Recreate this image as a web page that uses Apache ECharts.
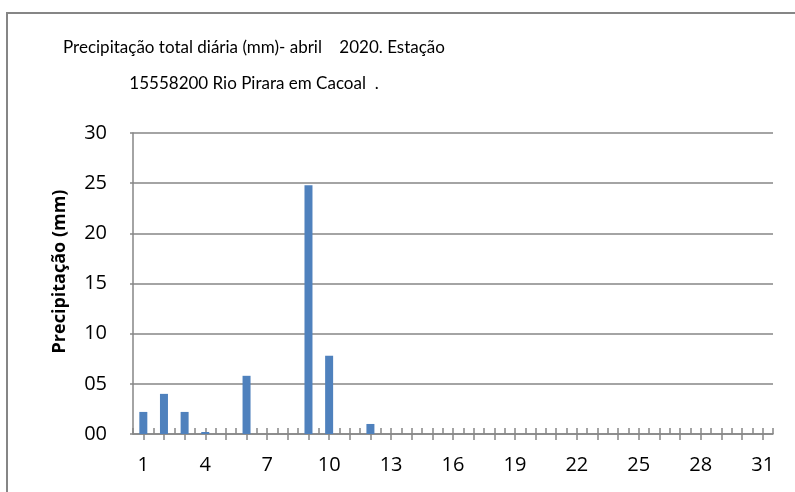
<!DOCTYPE html>
<html>
<head>
<meta charset="utf-8">
<script src="https://cdn.jsdelivr.net/npm/echarts@6/dist/echarts.min.js"></script>
<style>
  html, body { margin: 0; padding: 0; background: #fff; }
  #chart { width: 795px; height: 492px; }
</style>
</head>
<body>
<div id="chart"></div>
<script>
// dias de abril 2020
var days = []
for (var d = 1; d <= 31; d++) days.push(String(d))

// precipitação diária (mm)
var rain = [2.2, 4.0, 2.2, 0.2, 0, 5.8, 0, 0, 24.8, 7.8,
            0, 1.0, 0, 0, 0, 0, 0, 0, 0, 0,
            0, 0, 0, 0, 0, 0, 0, 0, 0, 0, 0]

var titleText = 'Precipitação total diária (mm)- abril    2020. Estação\n15558200 Rio Pirara em Cacoal  .'
var yName = 'Precipitação (mm)'

var font = 'Open Sans'
var titleFont = 'Lato'
var gray = '#868686'

var chart = echarts.init(document.getElementById('chart'))
chart.setOption({
  animation: false,
  title: {
    text: titleText,
    left: 249,
    top: 25,
    textAlign: 'center',
    textStyle: {
      fontFamily: titleFont,
      fontSize: 17,
      fontWeight: 'normal',
      color: '#000',
      lineHeight: 36,
      align: 'center'
    }
  },
  graphic: [{
    type: 'rect',
    shape: { x: 7, y: 13, width: 820, height: 520 },
    style: { fill: null, stroke: gray, lineWidth: 2 },
    silent: true
  }],
  grid: {
    left: 133,
    right: 22,
    top: 133,
    bottom: 58
  },
  xAxis: [{
    type: 'category',
    data: days,
    boundaryGap: true,
    axisLine: { lineStyle: { color: gray, width: 1.5 } },
    axisTick: { show: true, alignWithLabel: true, interval: 0, length: 6, lineStyle: { color: gray, width: 1.5 } },
    axisLabel: { interval: 2, color: '#000', fontFamily: font, fontSize: 20, margin: 21 },
    splitLine: { show: false }
  }, {
    type: 'value',
    position: 'bottom',
    min: 0.5,
    max: 31.5,
    interval: 0.5,
    axisLine: { show: false },
    axisTick: { show: true, inside: true, length: 6, lineStyle: { color: gray, width: 1.5 } },
    axisLabel: { show: false },
    splitLine: { show: false }
  }],
  yAxis: {
    type: 'value',
    min: 0,
    max: 30,
    interval: 5,
    name: yName,
    nameLocation: 'middle',
    nameGap: 64,
    nameTextStyle: { fontFamily: font, fontSize: 18, fontWeight: 'bold', color: '#000', padding: [0, 0, 0, 24] },
    axisLine: { show: true, lineStyle: { color: gray, width: 1.5 } },
    axisTick: { show: true, length: 3, lineStyle: { color: gray, width: 1.5 } },
    axisLabel: {
      color: '#000', fontFamily: font, fontSize: 20, margin: 26,
      align: 'right',
      formatter: function (v) { return String(v).padStart(2, '0') }
    },
    splitLine: { lineStyle: { color: gray, width: 1.5 } }
  },
  series: [{
    type: 'bar',
    xAxisIndex: 0,
    data: rain,
    barWidth: 8,
    itemStyle: { color: '#4F81BD' }
  }]
})
</script>
</body>
</html>
